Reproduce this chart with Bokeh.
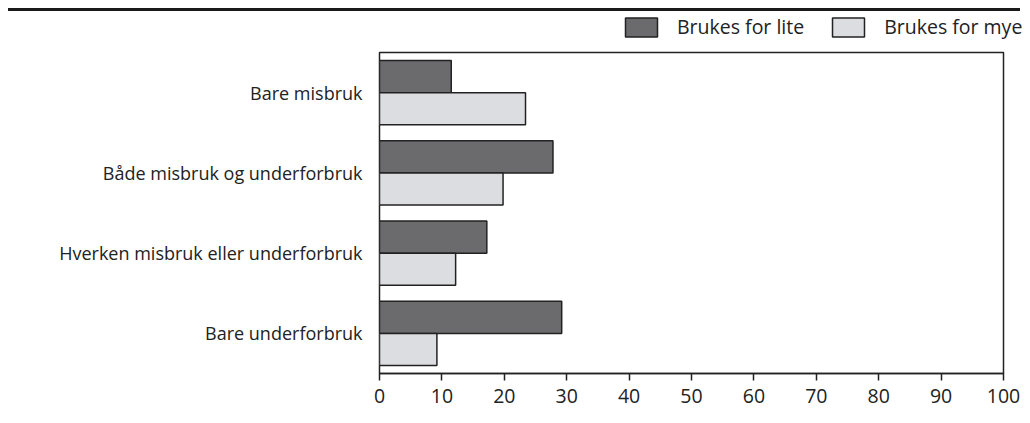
from bokeh.plotting import figure
from bokeh.models import ColumnDataSource, FactorRange, Range1d, Legend, LegendItem, Div, FixedTicker
from bokeh.transform import dodge
from bokeh.layouts import column
from bokeh.embed import file_html
from bokeh.resources import INLINE

categories = ["Bare misbruk", "Både misbruk og underforbruk",
              "Hverken misbruk eller underforbruk", "Bare underforbruk"]
brukes_for_lite = [11.5, 27.8, 17.2, 29.2]
brukes_for_mye = [23.4, 19.8, 12.2, 9.2]
series_names = ["Brukes for lite", "Brukes for mye"]
x_ticks = [0, 10, 20, 30, 40, 50, 60, 70, 80, 90, 100]

FONT = "Open Sans"
TXT = "#222222"
DARK = "#6b6b6e"
LIGHT = "#dcdde0"
EDGE = "#222222"

src = ColumnDataSource(dict(cat=categories, lite=brukes_for_lite, mye=brukes_for_mye))

p = figure(width=1022, height=370, output_backend="svg", toolbar_location=None,
           y_range=FactorRange(*categories[::-1], range_padding=0),
           x_range=Range1d(0, 100),
           min_border_left=379, min_border_right=19, min_border_top=2, min_border_bottom=47,
           margin=0)

r1 = p.hbar(y=dodge("cat", 0.2, range=p.y_range), right="lite", left=0, height=0.4,
            source=src, fill_color=DARK, line_color=EDGE, line_width=1.5)
r2 = p.hbar(y=dodge("cat", -0.2, range=p.y_range), right="mye", left=0, height=0.4,
            source=src, fill_color=LIGHT, line_color=EDGE, line_width=1.5)

p.grid.visible = False
p.outline_line_color = EDGE
p.outline_line_width = 1.5
p.background_fill_color = "white"
p.border_fill_color = "white"

xa = p.xaxis[0]
xa.ticker = FixedTicker(ticks=x_ticks)
xa.major_tick_in = 0
xa.major_tick_out = 7
xa.minor_tick_line_color = None
xa.axis_line_color = EDGE
xa.axis_line_width = 1.5
xa.major_tick_line_color = EDGE
xa.major_tick_line_width = 1.5
xa.major_label_text_font = FONT
xa.major_label_text_font_size = "19.5px"
xa.major_label_text_color = TXT
xa.major_label_standoff = 8

ya = p.yaxis[0]
ya.axis_line_color = None
ya.major_tick_line_color = None
ya.minor_tick_line_color = None
ya.major_label_text_font = FONT
ya.major_label_text_font_size = "18px"
ya.major_label_text_color = TXT
ya.major_label_standoff = 11

# legend strip above the plot (hidden proxy renderers, legend shows swatches)
lg = figure(width=1022, height=39, output_backend="svg", toolbar_location=None,
            x_range=Range1d(0, 1), y_range=Range1d(0, 1),
            x_axis_location=None, y_axis_location=None,
            min_border_left=0, min_border_right=0, min_border_top=0, min_border_bottom=0,
            margin=0)
lg.frame_align = False
lg.grid.visible = False
lg.outline_line_color = None
proxy = ColumnDataSource(dict(cat=categories[:1], lite=brukes_for_lite[:1], mye=brukes_for_mye[:1]))
l1 = lg.hbar(y=0, right="lite", left=0, height=0.4, source=proxy,
             fill_color=DARK, line_color=EDGE, line_width=1.5, visible=False)
l2 = lg.hbar(y=0, right="mye", left=0, height=0.4, source=proxy,
             fill_color=LIGHT, line_color=EDGE, line_width=1.5, visible=False)
legend = Legend(items=[LegendItem(label=series_names[0], renderers=[l1]),
                       LegendItem(label=series_names[1], renderers=[l2])],
                orientation="horizontal", location=(621, 10),
                glyph_width=40, glyph_height=24, label_height=24, label_standoff=16, spacing=24,
                label_text_font=FONT, label_text_font_size="19.5px", label_text_color=TXT,
                inactive_fill_alpha=0,
                border_line_color=None, background_fill_alpha=0, padding=0, margin=0)
lg.add_layout(legend, "center")

rule = Div(width=1012, height=3, margin=(8, 0, 0, 8),
           styles={"background-color": "#1a1a1a"})
layout = column(rule, lg, p, spacing=0)

open("out.html", "w").write(file_html(layout, INLINE))
